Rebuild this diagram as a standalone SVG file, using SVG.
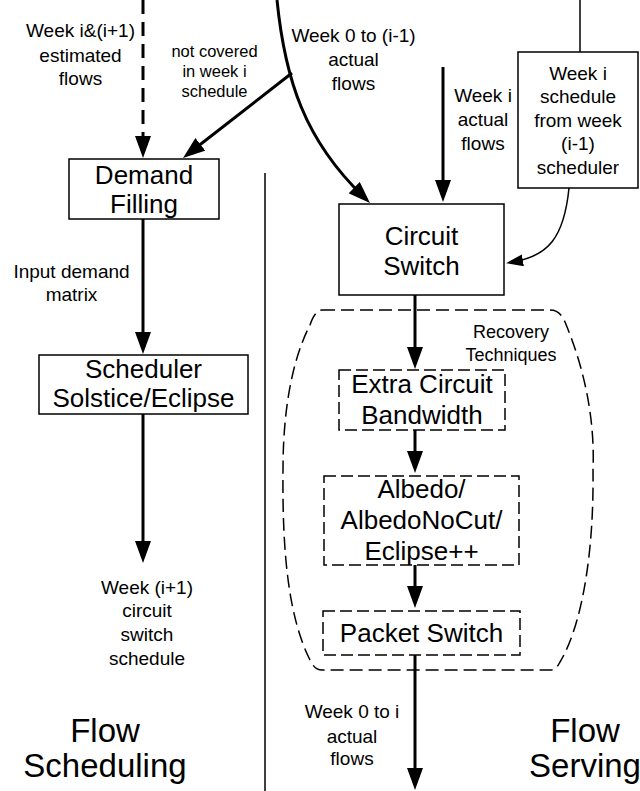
<svg xmlns="http://www.w3.org/2000/svg" width="640" height="791" viewBox="0 0 640 791">
  <style>
    text { font-family: "Liberation Sans", Arial, Helvetica, sans-serif; fill: #000; text-anchor: middle; }
    .big { font-size: 26px; }
    .lbl { font-size: 19px; }
    .sm { font-size: 16.5px; }
    .rec { font-size: 18px; }
    .title { font-size: 33px; }
    .box { fill: #fff; stroke: #000; stroke-width: 1.5; }
    .dbox { fill: #fff; stroke: #000; stroke-width: 1.5; stroke-dasharray: 12 5; }
    .region { fill: none; stroke: #000; stroke-width: 1.5; stroke-dasharray: 13 6; }
    .flow { fill: none; stroke: #000; stroke-width: 3; marker-end: url(#head); }
    .thin { fill: none; stroke: #000; stroke-width: 1.5; }
  </style>
  <defs>
    <marker id="head" markerUnits="userSpaceOnUse" viewBox="0 0 22 16" markerWidth="22" markerHeight="16" refX="12" refY="8" orient="auto">
      <path d="M0,0 L22,8 L0,16 Z" fill="#000"/>
    </marker>
    <marker id="headSmall" markerUnits="userSpaceOnUse" viewBox="0 0 17 12" markerWidth="17" markerHeight="12" refX="10" refY="6" orient="auto">
      <path d="M0,0 L17,6 L0,12 Z" fill="#000"/>
    </marker>
  </defs>

  <rect width="640" height="791" fill="#fff"/>

  <!-- recovery techniques region -->
  <g id="recovery-region">
    <path class="region" d="M322,310 L550,310 C558,310 562,315 565,322 C585,370 595,420 593,470 C594,540 585,620 560,662 C557,668 554,670 550,670 L322,670 C316,670 313,666 310,660 C290,620 282,560 283,470 C283,410 292,360 310,325 C313,316 317,310 322,310 Z"/>
    <text class="rec" x="511" y="338">Recovery</text>
    <text class="rec" x="511" y="361">Techniques</text>
  </g>

  <!-- connectors -->
  <g id="connectors">
    <line class="thin" x1="265" y1="173" x2="265" y2="791"/>
    <line class="flow" x1="143" y1="0" x2="143" y2="148" style="stroke-dasharray: 14 8"/>
    <path class="flow" d="M277,0 C285,80 305,140 362.8,196"/>
    <line class="flow" x1="292" y1="73" x2="190.9" y2="151.8"/>
    <line class="flow" x1="143" y1="219" x2="143" y2="344"/>
    <line class="flow" x1="143" y1="414" x2="143" y2="553"/>
    <line class="flow" x1="443" y1="67" x2="443" y2="192"/>
    <line class="thin" x1="580" y1="0" x2="580" y2="52"/>
    <path class="thin" d="M569,188 C564,238 548,256 513,262" marker-end="url(#headSmall)"/>
    <line class="flow" x1="415" y1="295" x2="415" y2="359"/>
    <line class="flow" x1="415" y1="430" x2="415" y2="463"/>
    <line class="flow" x1="415" y1="565" x2="415" y2="598"/>
    <line class="flow" x1="415" y1="655" x2="415" y2="780"/>
  </g>

  <!-- flow scheduling side -->
  <g id="demand-filling">
    <rect class="box" x="69" y="159" width="150" height="60"/>
    <text class="big" x="144" y="184">Demand</text>
    <text class="big" x="144" y="213">Filling</text>
  </g>
  <g id="scheduler">
    <rect class="box" x="39" y="355" width="209" height="59"/>
    <text class="big" x="143.5" y="378">Scheduler</text>
    <text class="big" x="143.5" y="407">Solstice/Eclipse</text>
  </g>

  <!-- flow serving side -->
  <g id="circuit-switch">
    <rect class="box" x="339" y="204" width="165" height="91"/>
    <text class="big" x="421.5" y="245">Circuit</text>
    <text class="big" x="421.5" y="275">Switch</text>
  </g>
  <g id="week-i-schedule">
    <rect class="box" x="518" y="52" width="120" height="136"/>
    <text class="lbl" x="578" y="80">Week i</text>
    <text class="lbl" x="578" y="103">schedule</text>
    <text class="lbl" x="578" y="127">from week</text>
    <text class="lbl" x="578" y="150">(i-1)</text>
    <text class="lbl" x="578" y="174">scheduler</text>
  </g>
  <g id="extra-circuit-bandwidth">
    <rect class="dbox" x="339" y="370" width="166" height="60"/>
    <text class="big" x="422" y="393">Extra Circuit</text>
    <text class="big" x="422" y="424">Bandwidth</text>
  </g>
  <g id="albedo">
    <rect class="dbox" x="324" y="476" width="195" height="89"/>
    <text class="big" x="421.5" y="498">Albedo/</text>
    <text class="big" x="421.5" y="529">AlbedoNoCut/</text>
    <text class="big" x="421.5" y="560">Eclipse++</text>
  </g>
  <g id="packet-switch">
    <rect class="dbox" x="323" y="611" width="197" height="44"/>
    <text class="big" x="421.5" y="642">Packet Switch</text>
  </g>

  <!-- connector labels -->
  <g id="labels">
    <text class="lbl" x="80.5" y="37">Week i&amp;(i+1)</text>
    <text class="lbl" x="80.5" y="61.5">estimated</text>
    <text class="lbl" x="80.5" y="85">flows</text>

    <text class="sm" x="214.5" y="56.5">not covered</text>
    <text class="sm" x="214.5" y="76.5">in week i</text>
    <text class="sm" x="214.5" y="96.5">schedule</text>

    <text class="lbl" x="353.5" y="42">Week 0 to (i-1)</text>
    <text class="lbl" x="353.5" y="66">actual</text>
    <text class="lbl" x="353.5" y="90">flows</text>

    <text class="lbl" x="483" y="102">Week i</text>
    <text class="lbl" x="483" y="126">actual</text>
    <text class="lbl" x="483" y="150">flows</text>

    <text class="lbl" x="71.5" y="278">Input demand</text>
    <text class="lbl" x="71.5" y="301">matrix</text>

    <text class="lbl" x="147" y="594">Week (i+1)</text>
    <text class="lbl" x="147" y="617">circuit</text>
    <text class="lbl" x="147" y="641">switch</text>
    <text class="lbl" x="147" y="665">schedule</text>

    <text class="lbl" x="352" y="718">Week 0 to i</text>
    <text class="lbl" x="352" y="743">actual</text>
    <text class="lbl" x="352" y="765">flows</text>
  </g>

  <!-- section titles -->
  <g id="titles">
    <text class="title" x="105" y="742">Flow</text>
    <text class="title" x="105" y="777">Scheduling</text>
    <text class="title" x="585" y="742">Flow</text>
    <text class="title" x="585" y="777">Serving</text>
  </g>
</svg>
